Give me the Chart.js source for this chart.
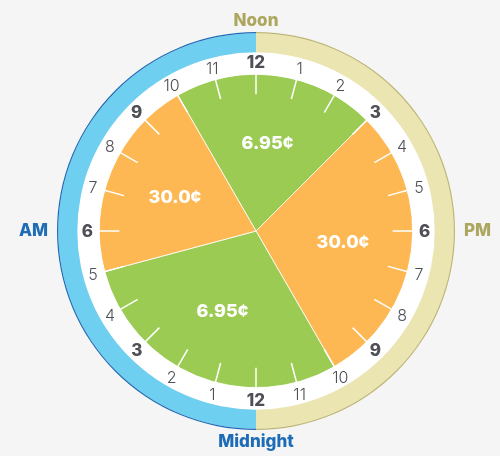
<!DOCTYPE html>
<html><head><meta charset="utf-8">
<script src="https://cdn.jsdelivr.net/npm/chart.js@4/dist/chart.umd.min.js"></script>
<style>html,body{margin:0;padding:0;background:#f5f5f5;overflow:hidden}</style>
</head><body>
<canvas id="c" width="500" height="456"></canvas>
<script>
// ---- data ----
const periods = ['10 AM – 3 PM', '3 PM – 10 PM', '10 PM – 5 AM', '5 AM – 10 AM'];
const periodHours = [5, 7, 7, 5];
const periodRates = ['6.95¢', '30.0¢', '6.95¢', '30.0¢'];
const halves = ['PM', 'AM'];
const halfHours = [12, 12];
const hourLabels = ['12','1','2','3','4','5','6','7','8','9','10','11','12','1','2','3','4','5','6','7','8','9','10','11'];
const majorHours = ['12', '3', '6', '9'];
const poleLabels = ['Noon', 'PM', 'Midnight', 'AM'];

// ---- styles ----
const GREEN = '#9bcb52', ORANGE = '#fdb853';
const BLUE = '#6ecff0', BEIGE = '#ebe5b1';
const BLUE_DARK = '#1f6cb6', OLIVE = '#bdb672';
const POLE_COLORS = ['#aca65f', '#aca65f', '#1f6cb6', '#1f6cb6'];
const NUM_COLOR = '#4f5056';
const FONT = 'Inter, "Open Sans", sans-serif';

const clockPlugin = {
  id: 'clock',
  afterDatasetsDraw(chart) {
    const ctx = chart.ctx;
    const pie = chart.getDatasetMeta(3);
    const ring = chart.getDatasetMeta(2);
    const outer = chart.getDatasetMeta(0);
    const a0 = pie.data[0];
    const cx = a0.x, cy = a0.y;
    const rPie = a0.outerRadius;
    const rRingMid = (ring.data[0].innerRadius + ring.data[0].outerRadius) / 2;
    const rOut = outer.data[0].outerRadius;
    const n = hourLabels.length;
    ctx.save();
    // hour ticks
    ctx.strokeStyle = '#ffffff';
    ctx.lineWidth = 1.5;
    for (let i = 0; i < n; i++) {
      const ang = -Math.PI / 2 + i * 2 * Math.PI / n;
      ctx.beginPath();
      ctx.moveTo(cx + Math.cos(ang) * (rPie - 20), cy + Math.sin(ang) * (rPie - 20));
      ctx.lineTo(cx + Math.cos(ang) * (rPie + 0.5), cy + Math.sin(ang) * (rPie + 0.5));
      ctx.stroke();
    }
    // hour numbers
    ctx.textAlign = 'center';
    ctx.textBaseline = 'middle';
    for (let i = 0; i < n; i++) {
      const ang = -Math.PI / 2 + i * 2 * Math.PI / n;
      const major = majorHours.includes(hourLabels[i]);
      ctx.font = (major ? '800 17px ' : '300 16px ') + FONT;
      ctx.fillStyle = NUM_COLOR;
      ctx.fillText(hourLabels[i], cx + Math.cos(ang) * (rRingMid + 1), cy + Math.sin(ang) * (rRingMid + 1) + 1);
    }
    // rate labels
    ctx.font = '800 18px ' + FONT;
    ctx.fillStyle = '#ffffff';
    pie.data.forEach((arc, i) => {
      const mid = (arc.startAngle + arc.endAngle) / 2;
      const r = rPie * 0.56;
      ctx.fillText(periodRates[i], cx + Math.cos(mid) * r, cy + Math.sin(mid) * r);
    });
    // pole labels
    ctx.font = '800 17px ' + FONT;
    ctx.fillStyle = POLE_COLORS[0];
    ctx.fillText(poleLabels[0], cx, cy - rOut - 11);
    ctx.fillStyle = POLE_COLORS[2];
    ctx.fillText(poleLabels[2], cx, cy + rOut + 12);
    ctx.textAlign = 'left';
    ctx.fillStyle = POLE_COLORS[1];
    ctx.fillText(poleLabels[1], cx + rOut + 9, cy);
    ctx.textAlign = 'right';
    ctx.fillStyle = POLE_COLORS[3];
    ctx.fillText(poleLabels[3], cx - rOut - 9, cy);
    ctx.restore();
  }
};

new Chart(document.getElementById('c'), {
  type: 'doughnut',
  data: {
    labels: periods,
    datasets: [
      { label: 'outline', data: halfHours, backgroundColor: [OLIVE, BLUE_DARK], borderWidth: 0, weight: 1.2, rotation: 0 },
      { label: 'halves', data: halfHours, backgroundColor: [BEIGE, BLUE], borderWidth: 0, weight: 19, rotation: 0 },
      { label: 'face', data: [24], backgroundColor: ['#ffffff'], borderWidth: 0, weight: 22, rotation: 0 },
      { label: 'rates', data: periodHours, backgroundColor: [GREEN, ORANGE, GREEN, ORANGE], borderColor: 'rgba(255,255,255,0.8)', borderWidth: 1, weight: 156, rotation: -30 }
    ]
  },
  options: {
    responsive: false,
    devicePixelRatio: 1,
    animation: false,
    events: [],
    cutout: 0,
    radius: 199,
    layout: { padding: { left: 12, top: 6, right: 0, bottom: 0 } },
    plugins: { legend: { display: false }, tooltip: { enabled: false } }
  },
  plugins: [clockPlugin]
});
</script>
</body></html>
